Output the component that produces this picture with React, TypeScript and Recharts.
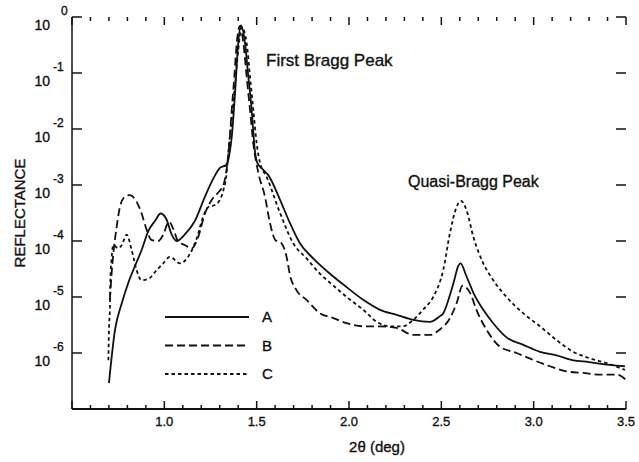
import { Legend, Line, LineChart, ReferenceLine, XAxis, YAxis } from 'recharts';

const INK = '#111';
const FONT = '"Liberation Sans", Arial, Helvetica, sans-serif';

// curve A (solid)
const angleA = [
  0.7, 0.733, 0.77, 0.805, 0.84, 0.877, 0.913, 0.95, 0.98, 1.01, 1.04, 1.067, 1.11, 1.166,
  1.22, 1.265, 1.3, 1.337, 1.352, 1.365, 1.383, 1.4, 1.415, 1.437, 1.455, 1.473, 1.49, 1.503,
  1.533, 1.563, 1.626, 1.68, 1.734, 1.806, 1.897, 1.987, 2.077, 2.168, 2.258, 2.348, 2.438,
  2.49, 2.51, 2.547, 2.57, 2.59, 2.604, 2.637, 2.673, 2.727, 2.781, 2.853, 2.944, 3.034,
  3.124, 3.214, 3.3, 3.395, 3.494,
];
const reflA = [
  2.9e-7, 2.6e-6, 7.8e-6, 1.8e-5, 3.5e-5, 6.9e-5, 1.5e-4, 2.3e-4, 3.1e-4, 2.5e-4, 1.3e-4,
  1.0e-4, 1.3e-4, 2.3e-4, 6.2e-4, 1.3e-3, 2.0e-3, 2.3e-3, 3.5e-3, 7.2e-3, 0.044, 0.34, 0.71,
  0.34, 0.085, 0.022, 4.2e-3, 2.5e-3, 1.9e-3, 1.5e-3, 5.5e-4, 2.1e-4, 9.1e-5, 4.9e-5, 2.6e-5,
  1.5e-5, 8.9e-6, 5.9e-6, 4.8e-6, 3.9e-6, 3.6e-6, 4.5e-6, 5.1e-6, 1.1e-5, 2.0e-5, 3.5e-5,
  4.0e-5, 2.3e-5, 1.2e-5, 5.9e-6, 3.4e-6, 1.9e-6, 1.4e-6, 1.05e-6, 9.1e-7, 7.4e-7, 6.9e-7,
  6.2e-7, 5.8e-7,
];

// curve B (long dashes)
const angleB = [
  0.705, 0.714, 0.724, 0.742, 0.76, 0.787, 0.814, 0.85, 0.877, 0.904, 0.93, 0.967, 0.994,
  1.025, 1.05, 1.075, 1.11, 1.148, 1.184, 1.22, 1.26, 1.3, 1.32, 1.337, 1.352, 1.365, 1.379,
  1.392, 1.41, 1.428, 1.446, 1.464, 1.482, 1.51, 1.545, 1.572, 1.6, 1.635, 1.662, 1.68, 1.717,
  1.77, 1.843, 1.915, 1.987, 2.077, 2.168, 2.258, 2.348, 2.438, 2.49, 2.547, 2.583, 2.615,
  2.655, 2.69, 2.745, 2.817, 2.908, 2.998, 3.088, 3.178, 3.268, 3.36, 3.45, 3.5,
];
const reflB = [
  8.9e-6, 2.5e-5, 6.0e-5, 1.8e-4, 4.1e-4, 6.2e-4, 6.6e-4, 5.0e-4, 3.1e-4, 1.6e-4, 1.05e-4,
  1.0e-4, 1.3e-4, 2.2e-4, 1.6e-4, 9.8e-5, 8.5e-5, 7.4e-5, 1.2e-4, 3.1e-4, 5.6e-4, 7.9e-4,
  1.0e-3, 1.9e-3, 5.5e-3, 0.022, 0.085, 0.34, 0.69, 0.34, 0.085, 0.022, 5.5e-3, 1.6e-3, 6.2e-4,
  2.1e-4, 1.05e-4, 9.1e-5, 5.2e-5, 2.5e-5, 1.3e-5, 8.9e-6, 5.1e-6, 4.2e-6, 3.4e-6, 3.0e-6,
  3.0e-6, 2.8e-6, 2.1e-6, 2.1e-6, 2.6e-6, 4.2e-6, 7.8e-6, 1.6e-5, 1.2e-5, 5.9e-6, 2.6e-6,
  1.3e-6, 1.0e-6, 7.5e-7, 5.8e-7, 4.7e-7, 4.4e-7, 4.1e-7, 4.1e-7, 3.3e-7,
];

// curve C (short dashes)
const angleC = [
  0.697, 0.7, 0.706, 0.708, 0.715, 0.724, 0.75, 0.77, 0.796, 0.823, 0.85, 0.877, 0.913, 0.958,
  0.994, 1.03, 1.085, 1.14, 1.175, 1.21, 1.24, 1.274, 1.3, 1.32, 1.337, 1.346, 1.365, 1.383,
  1.4, 1.419, 1.446, 1.464, 1.482, 1.5, 1.518, 1.554, 1.626, 1.698, 1.77, 1.843, 1.915, 1.987,
  2.077, 2.15, 2.22, 2.29, 2.348, 2.4, 2.456, 2.51, 2.547, 2.583, 2.606, 2.637, 2.673, 2.727,
  2.781, 2.853, 2.944, 3.034, 3.124, 3.214, 3.3, 3.395, 3.494,
];
const reflC = [
  7.4e-7, 2.5e-6, 7.8e-6, 2.0e-5, 5.2e-5, 8.5e-5, 7.4e-5, 8.5e-5, 1.3e-4, 6.9e-5, 3.0e-5,
  2.0e-5, 2.1e-5, 3.0e-5, 4.0e-5, 5.2e-5, 4.0e-5, 6.0e-5, 1.1e-4, 2.7e-4, 4.1e-4, 4.4e-4,
  5.4e-4, 8.1e-4, 1.6e-3, 3.7e-3, 0.0145, 0.063, 0.25, 0.66, 0.34, 0.085, 0.022, 5.5e-3,
  2.5e-3, 1.4e-3, 3.2e-4, 9.1e-5, 4.9e-5, 2.6e-5, 1.6e-5, 1.0e-5, 5.9e-6, 3.6e-6, 3.0e-6,
  3.0e-6, 3.9e-6, 5.9e-6, 1.0e-5, 3.0e-5, 1.4e-4, 4.1e-4, 5.2e-4, 3.5e-4, 1.2e-4, 4.0e-5,
  2.0e-5, 1.0e-5, 5.1e-6, 3.0e-6, 1.7e-6, 1.05e-6, 8.1e-7, 6.6e-7, 5.0e-7,
];

const xTicks = [
  0.5, 0.6, 0.7, 0.8, 0.9, 1.0, 1.1, 1.2, 1.3, 1.4, 1.5, 1.6, 1.7, 1.8, 1.9, 2.0, 2.1, 2.2,
  2.3, 2.4, 2.5, 2.6, 2.7, 2.8, 2.9, 3.0, 3.1, 3.2, 3.3, 3.4, 3.5,
];
const xLabels = ['1.0', '1.5', '2.0', '2.5', '3.0', '3.5'];
const yTicks = [1e-7, 1e-6, 1e-5, 1e-4, 1e-3, 1e-2, 1e-1, 1];
const yLabelled = [-6, -5, -4, -3, -2, -1, 0];

const X_MIN = 0.5;
const X_MAX = 3.5;
const Y_MIN = 1e-7;
const Y_MAX = 1;

const toPoints = (xs: number[], ys: number[]) => xs.map((x, i) => ({ angle: x, r: ys[i] }));
const dataA = toPoints(angleA, reflA);
const dataB = toPoints(angleB, reflB);
const dataC = toPoints(angleC, reflC);

const isMajor = (v: number) => Math.abs(v * 2 - Math.round(v * 2)) < 1e-6;

// inward tick marks, lengths in axis units (about 10px across, 8px / 4px up)
const Y_TICK_DX = 0.054;
const X_TICK_MAJOR = 1.39;
const X_TICK_MINOR = 1.18;

// a thin outline makes the text a bit heavier, like the scanned Helvetica
const textStyle = { fill: INK, stroke: INK, strokeWidth: 0.35, fontFamily: FONT };

function BottomLabel(props: any) {
  const { x, y, payload } = props;
  const label = (payload.value as number).toFixed(1);
  if (!xLabels.includes(label)) return <g />;
  return (
    <text x={x} y={y + 17} textAnchor="middle" fontSize={13} {...textStyle}>
      {label}
    </text>
  );
}

function LeftLabel(props: any) {
  const { x, y, payload } = props;
  const exp = Math.round(Math.log10(payload.value));
  if (!yLabelled.includes(exp)) return <g />;
  return (
    <g>
      <text x={x - 22} y={y + 13} textAnchor="end" fontSize={14} {...textStyle}>
        10
      </text>
      <text x={exp === 0 ? x - 11 : x - 19} y={y - 2} fontSize={12} {...textStyle}>
        {exp === 0 ? '0' : `-${-exp}`}
      </text>
    </g>
  );
}

function YTitle(props: any) {
  const { viewBox } = props;
  const cx = viewBox.x + 19;
  const cy = viewBox.y + viewBox.height / 2;
  return (
    <text
      x={cx}
      y={cy}
      transform={`rotate(-90, ${cx}, ${cy})`}
      textAnchor="middle"
      dominantBaseline="central"
      fontSize={15}
      {...textStyle}
    >
      REFLECTANCE
    </text>
  );
}

function XTitle(props: any) {
  const { viewBox } = props;
  return (
    <text
      x={viewBox.x + viewBox.width / 2 + 28}
      y={viewBox.y + 43}
      textAnchor="middle"
      fontSize={15}
      {...textStyle}
    >
      2θ (deg)
    </text>
  );
}

function LegendBox(props: any) {
  const { payload } = props;
  return (
    <svg width={120} height={90}>
      {(payload || []).map((entry: any, i: number) => {
        const ly = 12 + i * 28.5;
        return (
          <g key={entry.value}>
            <line
              x1={5}
              x2={89}
              y1={ly}
              y2={ly}
              stroke={INK}
              strokeWidth={1.8}
              strokeDasharray={entry.payload?.strokeDasharray}
            />
            <text x={102} y={ly + 5} fontSize={15} {...textStyle}>
              {entry.value}
            </text>
          </g>
        );
      })}
    </svg>
  );
}

// each tick is drawn from its inner end out to the frame
const tickSegments = [
  ...xTicks.map((v) => {
    const f = isMajor(v) ? X_TICK_MAJOR : X_TICK_MINOR;
    return [
      [{ x: v, y: Y_MIN * f }, { x: v, y: Y_MIN }],
      [{ x: v, y: Y_MAX / f }, { x: v, y: Y_MAX }],
    ];
  }),
  ...yTicks.map((v) => [
    [{ x: X_MIN + Y_TICK_DX, y: v }, { x: X_MIN, y: v }],
    [{ x: X_MAX - Y_TICK_DX, y: v }, { x: X_MAX, y: v }],
  ]),
].flat();

export default function App() {
  return (
    <div style={{ position: 'absolute', left: 0, top: 0, background: '#fff' }}>
      <LineChart width={639} height={462} margin={{ top: 17, right: 13, bottom: 13, left: 0 }}>
        <XAxis
          dataKey="angle"
          type="number"
          domain={[X_MIN, X_MAX]}
          ticks={xTicks}
          interval={0}
          height={40}
          tickSize={0}
          tickMargin={0}
          tickLine={false}
          tick={BottomLabel}
          axisLine={{ stroke: INK, strokeWidth: 1.8 }}
          allowDataOverflow
          label={XTitle}
        />
        <XAxis
          xAxisId="top"
          orientation="top"
          type="number"
          domain={[X_MIN, X_MAX]}
          height={0}
          tickLine={false}
          tick={false}
          axisLine={{ stroke: INK, strokeWidth: 1.3 }}
        />
        <YAxis
          type="number"
          scale="log"
          domain={[Y_MIN, Y_MAX]}
          ticks={yTicks}
          interval={0}
          width={72}
          tickSize={0}
          tickMargin={0}
          tickLine={false}
          tick={LeftLabel}
          axisLine={{ stroke: INK, strokeWidth: 1.5 }}
          allowDataOverflow
          label={YTitle}
        />
        <YAxis
          yAxisId="right"
          orientation="right"
          type="number"
          scale="log"
          domain={[Y_MIN, Y_MAX]}
          width={0}
          tickLine={false}
          tick={false}
          axisLine={{ stroke: INK, strokeWidth: 1.3 }}
          allowDataOverflow
        />
        {tickSegments.map((seg, i) => (
          <ReferenceLine
            key={`tick-${i}`}
            segment={seg}
            stroke={INK}
            strokeWidth={1.5}
            ifOverflow="visible"
          />
        ))}
        <Legend
          layout="horizontal"
          verticalAlign="middle"
          align="center"
          content={LegendBox}
          wrapperStyle={{ position: 'absolute', left: 160, top: 305, width: 120, height: 90 }}
        />
        <Line
          data={dataA}
          name="A"
          dataKey="r"
          type="monotone"
          stroke={INK}
          strokeWidth={1.8}
          dot={false}
          isAnimationActive={false}
        />
        <Line
          data={dataB}
          name="B"
          dataKey="r"
          type="monotone"
          stroke={INK}
          strokeWidth={1.8}
          strokeDasharray="8 4"
          dot={false}
          isAnimationActive={false}
        />
        <Line
          data={dataC}
          name="C"
          dataKey="r"
          type="monotone"
          stroke={INK}
          strokeWidth={1.8}
          strokeDasharray="3.5 3"
          dot={false}
          isAnimationActive={false}
        />
        <text x={266} y={66} fontSize={17} {...textStyle}>
          First Bragg Peak
        </text>
        <text x={408} y={187} fontSize={16} {...textStyle}>
          Quasi-Bragg Peak
        </text>
      </LineChart>
    </div>
  );
}
